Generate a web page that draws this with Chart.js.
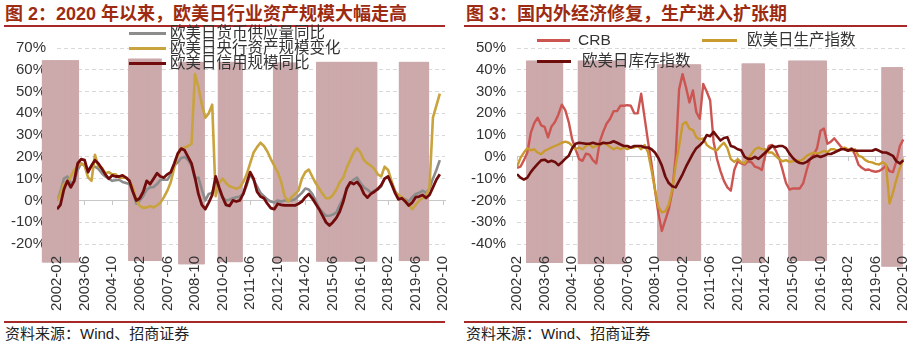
<!DOCTYPE html>
<html>
<head>
<meta charset="utf-8">
<script src="https://cdn.jsdelivr.net/npm/chart.js@4.4.1/dist/chart.umd.min.js"></script>
<style>
body { margin: 0; background: #fff; width: 921px; height: 354px; position: relative; overflow: hidden;
       font-family: "Liberation Sans", "Noto Sans CJK SC", sans-serif; }
.title { position: absolute; top: 3px; font-size: 18px; line-height: 22px; font-weight: bold; color: #9c2b12; white-space: nowrap; }
.rule { position: absolute; height: 2px; background: #a82828; }
.source { position: absolute; top: 324px; font-size: 15px; line-height: 20px; color: #222; white-space: nowrap; }
.chart { position: absolute; top: 28px; }
.lg { position: absolute; font-size: 15.5px; line-height: 18px; color: #333; white-space: nowrap; }
.sw { position: absolute; height: 3px; }
</style>
</head>
<body>
<div class="title" style="left:5px">图 2：2020 年以来，欧美日行业资产规模大幅走高</div>
<div class="rule" style="left:4px; top:25px; width:441px"></div>
<canvas id="leftChart" class="chart" style="left:0px" width="460" height="292"></canvas>
<div class="rule" style="left:4px; top:321px; width:441px"></div>
<div class="source" style="left:5px">资料来源：Wind、招商证券</div>

<div class="title" style="left:466px">图 3：国内外经济修复，生产进入扩张期</div>
<div class="rule" style="left:464px; top:25px; width:443px"></div>
<canvas id="rightChart" class="chart" style="left:460px" width="461" height="292"></canvas>
<div class="rule" style="left:464px; top:321px; width:443px"></div>
<div class="source" style="left:466px">资料来源：Wind、招商证券</div>

<script>
// month index 0 = 2002-02, series sampled every 2 months
var STEP = 2;
function monthIndex(s) {
    var p = s.split("-");
    return (Number(p[0]) - 2002) * 12 + (Number(p[1]) - 2);
}

const tickLabels = ["2002-02", "2003-06", "2004-10", "2006-02", "2007-06", "2008-10", "2010-02", "2011-06",
    "2012-10", "2014-02", "2015-06", "2016-10", "2018-02", "2019-06", "2020-10"];

// 图2 (2002-02 .. 2020-08)
const moneySupply = [0, 4, 10, 11, 8, 8.5, 14, 17, 16, 14,
    15.7, 15.5, 14.5, 12.5, 11, 10, 9, 9.3, 9.5, 8.5,
    8, 7.5, 4, -1.5, 0, 2, 5, 6, 6.2, 7.5,
    9.5, 9.5, 9.5, 12, 16, 17.5, 19.5, 20, 18.5, 16,
    10, 10.5, 5, 0, 3, 3.5, 8, 5, 1.5, 0,
    0.3, 1, 1.5, 1.8, 3, 7, 12, 9.5, 6.5, 3.5,
    2, 0.5, -0.5, -1, 0, -0.5, 0, 0, 0, 0.5,
    2, 3.5, 5.5, 5, 3, 0, -3.5, -5.5, -7, -7,
    -6.5, -5.5, -2, 1, 5, 8, 9.5, 10.5, 8, 6,
    5, 3.5, 4.5, 5, 6.5, 10, 11, 8, 4.5, 1.5,
    1, 0.5, -0.5, 1.5, 3, 3.5, 4.5, 3.5, 5.5, 10,
    14, 18.5];
const centralBank = [0, 3, 7.6, 8, 11, 14, 15.7, 17, 16, 10.6,
    9, 21, 15.5, 15, 12.5, 13, 12, 12, 10.5, 10.5,
    10.5, 9, 6, 0, -2.5, -3.4, -3.2, -2.6, -3.2, -2.2,
    -1, 1.5, 4.5, 8.5, 15, 21, 23.8, 24.3, 25, 26,
    58, 52, 44, 38, 40, 44, 2, 8, 10, 8,
    6.5, 6, 5.4, 6, 8.5, 12, 17, 22, 24.5, 26.5,
    25, 22.5, 19, 16, 13, 8.5, 2, -0.5, 1.5, 3,
    4.5, 10, 13, 14.2, 11, 8, 5.5, 3, 1, 1,
    2.5, 5, 8.4, 10.5, 15, 18.5, 22, 24, 22, 18.5,
    17, 16, 14.5, 12, 11, 15.5, 14, 9, 4, 2.5,
    1.5, 0, -2, -4, -2, 0, 1, 2, 6, 38,
    43.5, 49];
const credit = [-4, -2, 5, 9, 6, 9, 17, 19, 18.5, 13,
    16, 18.5, 17, 14.5, 12, 10, 11.5, 11, 11, 11.5,
    10.5, 9, 4, 0, 1, 4, 9, 7.5, 10, 12.5,
    11, 10.5, 12, 13, 17, 21.5, 23.8, 23, 20, 17,
    10.5, 3, -2, -4, -1, 2.5, 11, 6, 1.5, -2,
    -2.5, 0, -0.5, 0, 3, 8, 13, 10, 4, 1.8,
    1, -1.5, -3.5, -4, -1.5, -2, -2.3, -2.3, -2.3, -2.3,
    -1.5, -0.5, 1.5, 3, 1, -1.5, -4, -7, -10, -11.5,
    -10, -8, -5, -0.5, 5.5, 8.3, 7.5, 8.5, 6.5, 3,
    1.3, 3, 4, 5.3, 7, 10, 11, 7.5, 3.5, 0.5,
    1, -0.5, -2.3, -1, 1.5, 1.8, 2.5, 1.2, 2.5, 6,
    9.5, 12];
const leftShade = [["2001-06", "2003-02"], ["2005-08", "2007-02"], ["2008-01", "2009-03"], ["2009-12", "2011-01"],
    ["2012-08", "2013-09"], ["2014-09", "2017-07"], ["2018-09", "2020-01"]];
const leftShadeTop = [64.2, 64.9, 63.4, 63.4, 63.1, 63.4, 63.4];
const leftShadeBottom = [-28.3, -27.6, -29.1, -28.1, -27.9, -27.9, -27.6];

// 图3 (2002-02 .. 2020-10)
const crb = [-5, -4.5, -1.5, 2, 11, 15.5, 18, 14.5, 13.8, 9,
    14, 16, 19.5, 24, 21.5, 16, 8, 3.5, -1, -1.8,
    1.5, 1, -1.5, -3, 7, 11.6, 15.3, 17.5, 21, 21,
    23.5, 23.5, 23.8, 23.5, 20, 20, 29, 18, 7, -3,
    -15, -26, -34, -29, -24, -16, 0, 31, 38, 32,
    25, 30.5, 20.5, 17.5, 33.5, 30, 26, 7, -1, -6.5,
    -11, -14, -15.5, -6, -2, -3, -3.5, -2, -2.5, -4.5,
    -5, -6, 1, 5, 5.5, 3, -0.5, -6, -12, -15,
    -14.5, -14.5, -14.5, -12, -6, -1, 1, 4, 12, 13,
    6, 7, 8.5, 6.5, 4.5, 3.5, 3, 4, 1, -3.5,
    -5, -6, -5.8, -6.5, -6.8, -6.5, -5.5, -4, -6.5, -7,
    -2, 5, 8];
const production = [-4.5, -0.5, 2, 4, 3, 3.5, 2, 1.3, 2.8, 3.5,
    4.3, 5, 5.7, 6.5, 7, 6.5, 5, 3.5, 4.3, 3.5,
    5, 5.7, 4.3, 5, 5.7, 6.5, 5.7, 4.5, 3.5, 4.3,
    3.5, 4.3, 3.5, 4.3, 4.3, 5, 3.5, 5.5, 2, -6,
    -15, -23, -25.5, -25, -22, -15, -4, 5, 15, 16,
    13, 12.3, 9, 8, 8.5, 5.5, 4.3, 3.5, 3, 5,
    6.5, 4, -1, -2.3, -1, -2.5, -3, -0.5, 1.3, 3.5,
    4.3, 3.5, 3.5, 2, 2, 0.5, -1, -2, -1.5, -2.3,
    -2, -1.5, -2, -1, 0.5, 1.3, 2, 1.5, 2, 2.8,
    2.2, 3.5, 3.5, 2.8, 3.5, 4.3, 3.5, 2.8, 3.5, 0.5,
    0, -1.5, -2.3, -2.5, -3.2, -3.5, -2.5, -3.5, -21.4, -16.5,
    -10.4, -5.3, -1];
const inventory = [-8, -9.5, -10.4, -9.5, -7, -5, -3.2, -1.6, -1.3, -2.3,
    -1.8, -2.3, -3.8, -2.5, -0.8, 0.5, 4, 6, 6.5, 6.3,
    6, 6, 6.5, 6, 5.8, 6.5, 6.3, 6.5, 7.2, 6.5,
    5.7, 5, 5, 4.3, 5, 5, 5, 4.3, 4.3, 3.5,
    2, -0.5, -4, -9, -12, -13.5, -14, -11, -8, -4.5,
    -1.5, 1.5, 4, 5.3, 7, 10, 9.5, 11.5, 9.5, 7.5,
    8.7, 9, 5, 4.5, 3.5, 3, 0, -0.9, -0.9, 0,
    -0.9, 0.5, 2, 3.5, 5, 4.5, 5, 5, 4, 1.5,
    -0.5, -2, -2.8, -3, -2.3, -1, 0, 0.5, 0, 0.5,
    1.3, 1.3, 2, 2.8, 3.5, 3.5, 2.8, 3.5, 2.8, 2.8,
    2.8, 2.8, 2.8, 2.8, 3.5, 2.8, 2, 2, 1.3, 0.5,
    -2, -3, -1.6];
const rightShade = [["2002-08", "2004-04"], ["2005-02", "2007-04"], ["2008-12", "2010-12"], ["2013-01", "2014-01"],
    ["2015-04", "2017-01"], ["2019-10", "2020-09"]];
const rightShadeTop = [44, 44, 42.3, 42.7, 44, 41];
const rightShadeBottom = [-48.5, -49, -47.6, -48.5, -47.6, -50.2];

const tickMonths = tickLabels.map(monthIndex);

function toPoints(values) {
    return values.map(function (v, i) { return { x: i * STEP, y: v }; });
}

function shadePoints(periods, tops, bottoms) {
    const pts = [];
    for (var k = 0; k < periods.length; k++) {
        for (var m = monthIndex(periods[k][0]); m <= monthIndex(periods[k][1]); m++) {
            pts.push({ x: m, y: [bottoms[k], tops[k]] });
        }
    }
    return pts;
}

function setTicks(scale) {
    scale.ticks = tickMonths.map(function (v) { return { value: v }; });
}

var tickFont = { family: "Liberation Sans", size: 15 };

function drawChart(id, yMin, yMax, padRight, series, shade) {
    const datasets = series.map(function (s, i) {
        return {
            label: s.label, data: toPoints(s.values), borderColor: s.color, borderWidth: s.width,
            pointRadius: 0, tension: 0, borderJoinStyle: "round", fill: false, order: series.length - i
        };
    });
    datasets.push({
        type: "bar", label: "shade", data: shade, backgroundColor: "#cca9ab", borderWidth: 0,
        barPercentage: 1, categoryPercentage: 1, inflateAmount: 0.5, clip: false, order: 10
    });

    new Chart(document.getElementById(id), {
        type: "line",
        data: { datasets: datasets },
        options: {
            responsive: false,
            animation: false,
            events: [],
            layout: { padding: { left: 0, top: 12, right: padRight, bottom: 0 } },
            plugins: { legend: { display: false }, tooltip: { enabled: false } },
            scales: {
                x: {
                    type: "linear", min: 0, max: 225, offset: false, position: "bottom",
                    grid: { display: false, drawTicks: false, offset: false },
                    border: { display: false },
                    afterBuildTicks: setTicks,
                    afterFit: function (s) { s.height = 76; s.paddingLeft = 0; s.paddingRight = 0; },
                    ticks: {
                        z: 1, autoSkip: false, minRotation: 90, maxRotation: 90, padding: 12, color: "#333", font: tickFont,
                        callback: function (v, i) { return tickLabels[i]; }
                    }
                },
                x0: {
                    type: "linear", axis: "x", min: 0, max: 225, offset: false, position: { y: 0 },
                    grid: { display: true, drawOnChartArea: false, drawTicks: true, tickLength: 4, color: "#c8c8c8", offset: false },
                    border: { display: true, color: "#c8c8c8", width: 1 },
                    afterBuildTicks: setTicks,
                    afterFit: function (s) { s.paddingLeft = 0; s.paddingRight = 0; },
                    ticks: { display: false }
                },
                y: {
                    type: "linear", min: yMin, max: yMax, position: "left",
                    afterFit: function (s) { s.width = 57; },
                    grid: { color: "#d9d9d9", drawTicks: false },
                    border: { display: false, dash: [4, 3] },
                    ticks: {
                        stepSize: 10, padding: 11, color: "#333", font: tickFont,
                        callback: function (v) { return v + "%"; }
                    }
                }
            }
        }
    });
}

function addLegend(items) {
    items.forEach(function (it) {
        var sw = document.createElement("div");
        sw.className = "sw";
        sw.style.left = it.x + "px";
        sw.style.top = (it.y - 1.5) + "px";
        sw.style.width = it.len + "px";
        sw.style.background = it.color;
        document.body.appendChild(sw);
        var t = document.createElement("div");
        t.className = "lg";
        t.style.left = it.tx + "px";
        t.style.top = (it.y - 9) + "px";
        t.textContent = it.label;
        document.body.appendChild(t);
    });
}

const leftSeries = [
    { label: "欧美日货币供应量同比", values: moneySupply, color: "#8c8c8c", width: 2.6 },
    { label: "欧美日央行资产规模变化", values: centralBank, color: "#c9a33e", width: 2.6 },
    { label: "欧美日信用规模同比", values: credit, color: "#720c0c", width: 2.8 }
];
const rightSeries = [
    { label: "CRB", values: crb, color: "#cc5552", width: 2.4 },
    { label: "欧美日生产指数", values: production, color: "#c99b2e", width: 2.4 },
    { label: "欧美日库存指数", values: inventory, color: "#6e0b0b", width: 2.6 }
];

drawChart("leftChart", -20, 70, 15, leftSeries, shadePoints(leftShade, leftShadeTop, leftShadeBottom));
drawChart("rightChart", -40, 50, 16, rightSeries, shadePoints(rightShade, rightShadeTop, rightShadeBottom));

addLegend([
    { label: leftSeries[0].label, color: leftSeries[0].color, x: 129, len: 37, tx: 170, y: 33 },
    { label: leftSeries[1].label, color: leftSeries[1].color, x: 129, len: 37, tx: 170, y: 48.3 },
    { label: leftSeries[2].label, color: leftSeries[2].color, x: 129, len: 37, tx: 170, y: 63.3 },
    { label: rightSeries[0].label, color: rightSeries[0].color, x: 537, len: 33, tx: 578, y: 40 },
    { label: rightSeries[1].label, color: rightSeries[1].color, x: 702, len: 35, tx: 747, y: 40 },
    { label: rightSeries[2].label, color: rightSeries[2].color, x: 537, len: 34, tx: 582, y: 61 }
]);
</script>
</body>
</html>
